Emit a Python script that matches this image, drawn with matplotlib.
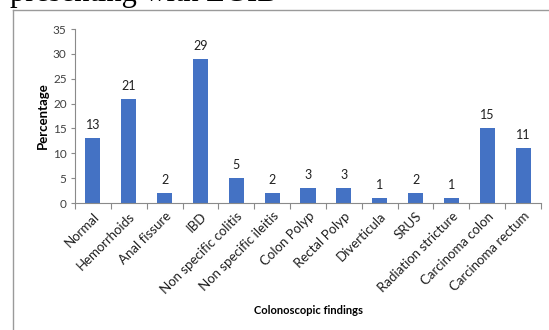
import matplotlib
matplotlib.use("Agg")
import matplotlib.pyplot as plt
from matplotlib.lines import Line2D

categories = ["Normal", "Hemorrhoids", "Anal fissure", "IBD", "Non specific colitis",
              "Non specific ileitis", "Colon Polyp", "Rectal Polyp", "Diverticula", "SRUS",
              "Radiation stricture", "Carcinoma colon", "Carcinoma rectum"]
values = [13, 21, 2, 29, 5, 2, 3, 3, 1, 2, 1, 15, 11]
yticks = [0, 5, 10, 15, 20, 25, 30, 35]

W, H = 549, 330
fig = plt.figure(figsize=(W/100, H/100), dpi=100)
fig.patch.set_facecolor("white")

font = "Lato"

# border lines of the framing box
fig.add_artist(Line2D([13/W, 1], [1-10/H, 1-10/H], color="#9a9a9a", lw=1.0, transform=fig.transFigure))
fig.add_artist(Line2D([13/W, 13/W], [0, 1-10/H], color="#9a9a9a", lw=1.0, transform=fig.transFigure))

# cropped title text at top
fig.text(10/W, 1-1.5/H, "presenting with LGIB", family="Liberation Serif", fontsize=22,
         va="baseline", ha="left", color="black")

left, right = 75/W, 541/W
bottom, top = 1-203/H, 1-29/H
ax = fig.add_axes([left, bottom, right-left, top-bottom])

x = range(len(categories))
bars = ax.bar(x, values, width=0.42, color="#4472C4", zorder=2)
ax.set_xlim(-0.5, len(categories)-0.5)
ax.set_ylim(0, 35)
ax.set_yticks(yticks)
ax.set_yticklabels([str(t) for t in yticks], family=font, fontsize=8.5, color="#404040")

ax.set_xticks([i + 0.5 for i in range(-1, len(categories))], minor=False)
ax.set_xticklabels([])
ax.set_xticks(list(x), minor=True)
ax.set_xticklabels(categories, minor=True, rotation=45, ha="right", rotation_mode="anchor",
                   family=font, fontsize=9.5, color="#202020")
ax.tick_params(axis="x", which="minor", length=0, pad=5)
ax.tick_params(axis="x", which="major", length=4, color="#8a8a8a", direction="out")
ax.tick_params(axis="y", length=3, color="#8a8a8a", direction="out", pad=3)

for s in ["top", "right"]:
    ax.spines[s].set_visible(False)
for s in ["left", "bottom"]:
    ax.spines[s].set_color("#8a8a8a")
    ax.spines[s].set_linewidth(0.8)

for i, v in enumerate(values):
    ax.annotate(str(v), (i, v), xytext=(0, 5), textcoords="offset points",
                ha="center", va="bottom", family=font, fontsize=9, color="#202020")

ax.set_ylabel("Percentage", family=font, fontsize=9.5, fontweight="bold", labelpad=3)
fig.text(308/W, 1-310/H, "Colonoscopic findings", family=font, fontsize=8,
         fontweight="bold", ha="center", va="center")

fig.savefig("out.png", dpi=100)
